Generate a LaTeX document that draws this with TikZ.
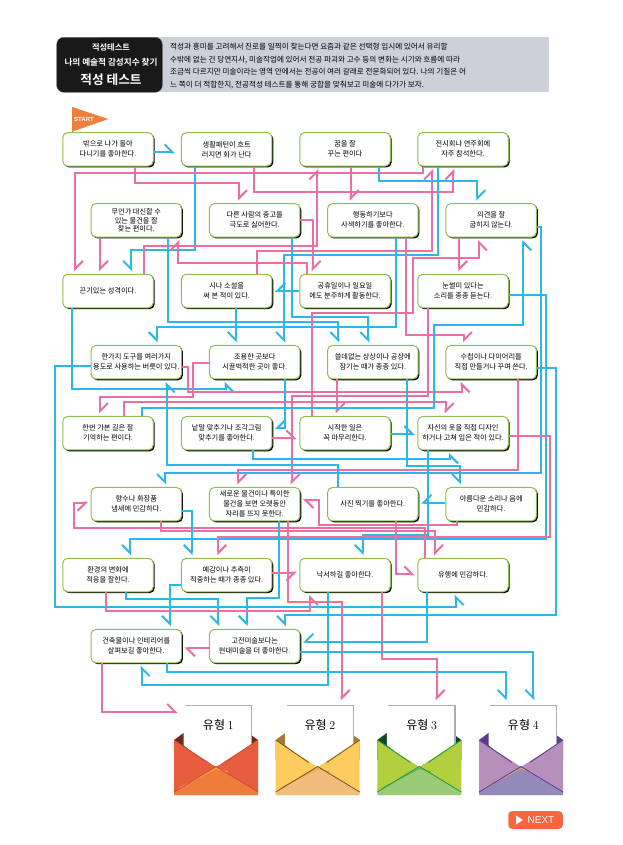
\documentclass[tikz,border=0pt]{standalone}
\usepackage{fontspec}
\usetikzlibrary{arrows.meta,shadows,calc}
\newfontfamily\kr{Noto Sans CJK KR}
\newfontfamily\krb{Noto Sans CJK KR Bold}
\setsansfont{Liberation Sans}
\definecolor{QGreen}{HTML}{8DC04F}
\definecolor{LPink}{HTML}{E96FA4}
\definecolor{LBlue}{HTML}{2BB8E8}
\definecolor{HGrey}{HTML}{CBD0D9}
\definecolor{FlagOrange}{HTML}{EE7F3F}
\definecolor{NextRed}{HTML}{F9653E}
\definecolor{PaperGrey}{HTML}{A9ADB5}
\tikzset{
    qbox/.style={draw=QGreen, line width=1pt, fill=white, rounded corners=5pt, minimum width=90.5pt, minimum height=33.5pt, inner sep=0pt, align=center,
        font=\fontsize{7.2}{10}\kr, drop shadow={shadow xshift=1.4pt, shadow yshift=-1.4pt, fill=black, opacity=1}},
    lfb/.tip={Straight Barb[harpoon, length=8pt, width=16pt]},
    rtb/.tip={Straight Barb[harpoon, swap, length=8pt, width=16pt]},
    pk/.style={draw=LPink, line width=2pt, shorten >=2.5pt, -lfb},
    bl/.style={draw=LBlue, line width=2pt, shorten >=2.5pt, -rtb},
    pkr/.style={draw=LPink, line width=2pt, shorten >=2.5pt, -rtb},
    bll/.style={draw=LBlue, line width=2pt, shorten >=2.5pt, -lfb},
}
\begin{document}
\begin{tikzpicture}[x=1pt, y=-1pt]
    \useasboundingbox (0,0) rectangle (623,845);
    % header
    \fill[HGrey] (100,37) rectangle (548.5,92.5);
    \node[draw=black!60, line width=.4pt, fill=black!90, rounded corners=7pt, minimum width=105.6pt, minimum height=55pt, inner sep=0pt] (hbox) at (109.5,64.8) {};
    \node[text=white, font=\fontsize{8.2}{9}\krb] (h1) at (111,47.3) {적성테스트};
    \node[text=white, font=\fontsize{8.6}{9}\krb] (h2) at (111,62.3) {나의 예술적 감성지수 찾기};
    \node[text=white, font=\fontsize{12.7}{13}\krb] (h3) at (111,79.3) {적성 테스트};
    \node[anchor=north west, inner sep=0pt, align=left, font=\fontsize{7.6}{12.7}\kr] (htext) at (170,43) {적성과 흥미를 고려해서 진로를 일찍이 찾는다면 요즘과 같은 선택형 입시에 있어서 유리할\\
        수밖에 없는 건 당연지사, 미술작업에 있어서 전공 파괴와 고수 등의 변화는 시기와 흐름에 따라\\
        조금씩 다르지만 미술이라는 영역 안에서는 전공이 여러 갈래로 전문화되어 있다. 나의 기질은 어\\
        느 쪽이 더 적합한지, 전공적성 테스트를 통해 궁합을 맞춰보고 미술에 다가가 보자.};
    % start flag
    \draw[LBlue, line width=1pt] (72,107) -- (72,132.7);
    \fill[FlagOrange] (72,107) -- (108.3,119) -- (72,131.7) -- cycle;
    \node[text=white, font=\fontsize{6}{7}\sffamily\bfseries, inner sep=0pt] (start) at (84,119) {START};
    % questions
    \node[qbox] (a1) at (108,149.3) {밖으로 나가 돌아\\다니기를 좋아한다.};
    \node[qbox] (b1) at (226.7,149.3) {생활패턴이 흐트\\러지면 화가 난다};
    \node[qbox] (c1) at (345,149.3) {꿈을 잘\\꾸는 편이다};
    \node[qbox] (d1) at (463,149.3) {전시회나 연주회에\\자주 참석한다.};
    \node[qbox] (a2) at (136.3,220.3) {무언가 대신할 수\\[-1.3pt]있는 물건을 잘\\[-1.3pt]찾는 편이다.};
    \node[qbox] (b2) at (254.7,220.3) {다른 사람의 충고를\\극도로 싫어한다.};
    \node[qbox] (c2) at (372.8,220.3) {행동하기보다\\사색하기를 좋아한다.};
    \node[qbox] (d2) at (491.2,220.3) {의견을 잘\\굽히지 않는다.};
    \node[qbox] (a3) at (108,291) {끈기있는 성격이다.};
    \node[qbox] (b3) at (226.7,291) {시나 소설을\\써 본 적이 있다.};
    \node[qbox] (c3) at (345,291) {공휴일이나 일요일\\에도 분주하게 활동한다.};
    \node[qbox] (d3) at (463,291) {눈썰미 있다는\\소리를 종종 듣는다.};
    \node[qbox] (a4) at (136.3,362.2) {한가지 도구를 여러가지\\용도로 사용하는 버릇이 있다.};
    \node[qbox] (b4) at (254.7,362.2) {조용한 곳보다\\시끌벅적한 곳이 좋다.};
    \node[qbox] (c4) at (372.8,362.2) {쓸데없는 상상이나 공상에\\잠기는 때가 종종 있다.};
    \node[qbox] (d4) at (491.2,362.2) {수첩이나 다이어리를\\직접 만들거나 꾸며 쓴다.};
    \node[qbox] (a5) at (108,433.2) {한번 가본 길은 잘\\기억하는 편이다.};
    \node[qbox] (b5) at (226.7,433.2) {낱말 맞추기나 조각그림\\맞추기를 좋아한다.};
    \node[qbox] (c5) at (345,433.2) {시작한 일은\\꼭 마무리한다.};
    \node[qbox] (d5) at (463,433.2) {자신의 옷을 직접 디자인\\하거나 고쳐 입은 적이 있다.};
    \node[qbox] (a6) at (136.3,504.2) {향수나 화장품\\냄새에 민감하다.};
    \node[qbox] (b6) at (254.7,504.2) {새로운 물건이나 특이한\\물건을 보면 오랫동안\\자리를 뜨지 못한다.};
    \node[qbox] (c6) at (372.8,504.2) {사진 찍기를 좋아한다.};
    \node[qbox] (d6) at (491.2,504.2) {아름다운 소리나 음에\\민감하다.};
    \node[qbox] (a7) at (108,575) {환경의 변화에\\적응을 잘한다.};
    \node[qbox] (b7) at (226.7,575) {예감이나 추측이\\적중하는 때가 종종 있다.};
    \node[qbox] (c7) at (345,575) {낙서하길 좋아한다.};
    \node[qbox] (d7) at (463,575) {유행에 민감하다.};
    \node[qbox] (a8) at (136.3,646) {건축물이나 인테리어를\\살펴보길 좋아한다.};
    \node[qbox] (b8) at (254.7,646) {고전미술보다는\\현대미술을 더 좋아한다.};
    % envelopes
    \foreach \ex/\cmain/\cdark/\cfront/\cedge/\caccent/\n in {
        174/E85C40/6E2A1F/EE7D3C/C94F35/F5B040/1,
        275.7/FDCB5E/A8763A/F2BD7C/7A5520/D9A23F/2,
        377.3/B2CF3E/0B4A22/9CCB78/1E9A4A/55B04A/3,
        479/B68FBB/5B3A90/9389BB/5B3F95/E8A84A/4}
    {
        \definecolor{emain}{HTML}{\cmain}
        \definecolor{edark}{HTML}{\cdark}
        \definecolor{efront}{HTML}{\cfront}
        \definecolor{eedge}{HTML}{\cedge}
        \definecolor{eacc}{HTML}{\caccent}
        \begin{scope}[shift={(\ex,0)}]
            \fill[edark] (0,740) -- (9.5,733) -- (74.5,733) -- (84,740) -- (84,760) -- (0,760) -- cycle;
            \node[minimum width=76pt, minimum height=50pt, inner sep=0pt] (t\n) at (44.3,728) {};
            \fill[white] (9.5,705.3) -- (77.7,705.3) -- (77.7,745) -- (42,771) -- (9.5,745) -- cycle;
            \draw[PaperGrey, line width=1.5pt] (11,705.3) -- (77.7,705.3) -- (77.7,745);
            \node[font=\fontsize{12}{13}\kr] (tl\n) at (44.3,725) {유형 {\rmfamily\n}};
            \fill[emain] (0,740) -- (42,767) -- (84,740) -- (84,792) [rounded corners=1pt] -- (84,795) -- (0,795) [sharp corners] -- (0,792) -- cycle;
            \draw[eedge, line width=.8pt] (0,740) -- (33,762.5);
            \draw[eedge, line width=.8pt] (84,740) -- (51,762.5);
            \fill[efront, rounded corners=1pt] (0,792) -- (42,766.5) -- (84,792) -- (84,795) -- (0,795) -- cycle;
            \draw[eacc, line width=.8pt] (5,788) -- (42,768.5) -- (54,772);
            \draw[eedge, line width=.8pt] (0,792) -- (42,766.5) -- (84,792);
        \end{scope}
    }
    % next button
    \node[fill=NextRed, rounded corners=4pt, minimum width=54.5pt, minimum height=18pt, inner sep=0pt] (next) at (535.5,820) {};
    \fill[white] (516,815.5) -- (523,820) -- (516,824.5) -- cycle;
    \node[text=white, font=\fontsize{10}{11}\sffamily, inner sep=0pt] (nexttext) at (541,820) {NEXT};
    % row 1
    \draw[bll, shorten >=6pt] (a1.east |- 0,152.3) -- (b1.west |- 0,152.3);
    \draw[pk] (a1.south -| 135,0) |- (239,183.3) -- (b2.north -| 239,0);
    \draw[bl] (b1.south -| 195,0) |- (131,250) -- (a3.north -| 131,0);
    \draw[pk] (b1.south -| 254.3,0) |- (453.3,191.7) -- (d1.south -| 453.3,0);
    \draw[pk] (d1.south -| 422.7,0) |- (75,172.7) -- (a3.north -| 75,0);
    \draw[pk] (a3.north -| 144.3,0) |- (317.3,246) -- (c1.south -| 317.3,0);
    \draw[pk] (b3.north -| 256.7,0) |- (432,251) -- (d1.south -| 432,0);
    \draw[pk] (c1.south -| 350.7,0) -- (c2.north -| 350.7,0);
    \draw[bll] (c1.south -| 378.7,0) |- (477.3,181) -- (d2.north -| 477.3,0);
    \draw[bl] (d1.south -| 438.3,0) |- (284,255) -- (b4.north -| 284,0);
    % row 2
    \draw[bl] (b2.south -| 291.7,0) |- (368.3,317.3) -- (c4.north -| 368.3,0);
    \draw[bl] (a2.south -| 168.3,0) |- (338.3,321.7) -- (c4.north -| 338.3,0);
    \draw[bl] (c2.south -| 395.7,0) |- (156.7,326.7) -- (a4.north -| 156.7,0);
    \draw[pk] (a2.south -| 100,0) -- (a3.north -| 100,0);
    \draw[pk] (b2.east |- 0,220) -| (c3.north -| 312.7,0);
    \draw[pk] (c3.north -| 306.7,0) |- (178.3,262.7) -- (a2.south -| 178.3,0);
    \draw[pk] (c2.south -| 406,0) |- (464,335) -- (d4.north -| 464,0);
    \draw[pk] (d2.south -| 459.3,0) -- (d3.north -| 459.3,0);
    \draw[bl] (d2.east |- 0,227.3) -| (540.7,472.7) -| (a6.north -| 165,0);
    % row 3
    \draw[bl] (a3.south -| 72.3,0) |- (225.7,389) -- (b4.south -| 225.7,0);
    \draw[bl] (b3.south -| 235.7,0) -- (b4.north -| 235.7,0);
    \draw[bl] (c3.west |- 0,291) -- (b3.east |- 0,291);
    \draw[pkr] (c5.north -| 311.7,0) |- (413.3,313.3) |- (479,258.3) -- (d2.south -| 479,0);
    \draw[bl] (d3.east |- 0,295) -| (546,539.3) -| (a7.north -| 130,0);
    \draw[pk] (d3.south -| 428.3,0) |- (291.7,396) -- (b6.north -| 291.7,0);
    % row 4
    \draw[pkr] (a4.east |- 0,367.3) -| (187.7,391.7) -| (d4.south -| 461.7,0);
    \draw[pk] (b4.west |- 0,362.7) -| (193.3,396.7) -| (a5.north -| 100,0);
    \draw[pk] (c4.south -| 336.7,0) -- (c5.north -| 336.7,0);
    \draw[bl] (c4.south -| 406.7,0) |- (460,466) -- (d6.north -| 460,0);
    \draw[pk] (d4.south -| 518.3,0) |- (238.3,470) -- (b6.north -| 238.3,0);
    \draw[bl] (d4.east |- 0,368) -| (556,615) -| (b8.north -| 285,0);
    \draw[bl] (a4.west |- 0,366) -| (55,606.7) -| (d7.south -| 455.7,0);
    \draw[bl] (b4.south -| 285,0) |- (b5.east |- 0,428);
    % row 5
    \draw[pk] (a5.north -| 124,0) |- (445.7,401.7) -- (d5.north -| 445.7,0);
    \draw[bl] (a5.north -| 141.7,0) |- (434.3,407.7) |- (523.3,325) -- (d2.south -| 523.3,0);
    \draw[pk] (b5.east |- 0,438.3) -- (c5.west |- 0,438.3);
    \draw[bl] (b5.south -| 253.3,0) |- (450,459) -- (d5.south -| 450,0);
    \draw[bll] (c5.east |- 0,434) -- (d5.west |- 0,434);
    \draw[bl] (d5.south -| 428.3,0) |- (362.7,535) -- (c7.north -| 362.7,0);
    \draw[pk] (d5.east |- 0,436) -| (550,536.7) -| (b7.north -| 218.3,0);
    % row 6
    \draw[pkr] (d7.north -| 425,0) |- (74,527.5) |- (a6.west |- 0,502.7);
    \draw[pk] (a6.south -| 160.7,0) |- (435,530.7) -- (d7.north -| 435,0);
    \draw[bl] (a6.east |- 0,511) -| (b7.north -| 191.7,0);
    \draw[bl] (b6.south -| 279,0) |- (246.7,598.3) -- (b8.north -| 246.7,0);
    \draw[pk] (b6.south -| 288.3,0) |- (341.7,601.7) -- (t2.north -| 341.7,0);
    \draw[bl] (c6.north -| 338.3,0) |- (166.7,464.5) -- (a4.south -| 166.7,0);
    \draw[pk] (c6.south -| 396,0) |- (d7.west |- 0,574.3);
    \draw[pk] (d6.south -| 456.7,0) |- (319.3,524.7) |- (b6.east |- 0,500);
    \draw[bl] (d6.west |- 0,502.7) -- (c6.east |- 0,502.7);
    % row 7
    \draw[bl] (a7.south -| 125.7,0) |- (218.3,599.3) -- (b8.north -| 218.3,0);
    \draw[pkr] (a7.south -| 105.7,0) |- (310,611) -- (c7.south -| 310,0);
    \draw[bl] (b7.west |- 0,585) -| (a8.north -| 170,0);
    \draw[pkr] (b7.east |- 0,572.7) -- (c7.west |- 0,572.7);
    \draw[bl] (c7.south -| 327.7,0) |- (141.7,685) -- (a8.south -| 141.7,0);
    \draw[pk] (c7.south -| 381.7,0) |- (436.7,659.3) -- (t3.north -| 436.7,0);
    \draw[bl] (d7.south -| 427.3,0) |- (b8.east |- 0,641.7);
    % row 8
    \draw[pk] (a8.south -| 102.3,0) |- (t1.west |- 0,712);
    \draw[pk] (b8.west |- 0,648.3) -- (a8.east |- 0,648.3);
    \draw[bl] (b8.east |- 0,651.7) -| (t4.north -| 533.3,0);
    \draw[bl] (a8.south -| 167.3,0) |- (505.7,671.7) -- (t4.north -| 505.7,0);
\end{tikzpicture}
\end{document}
